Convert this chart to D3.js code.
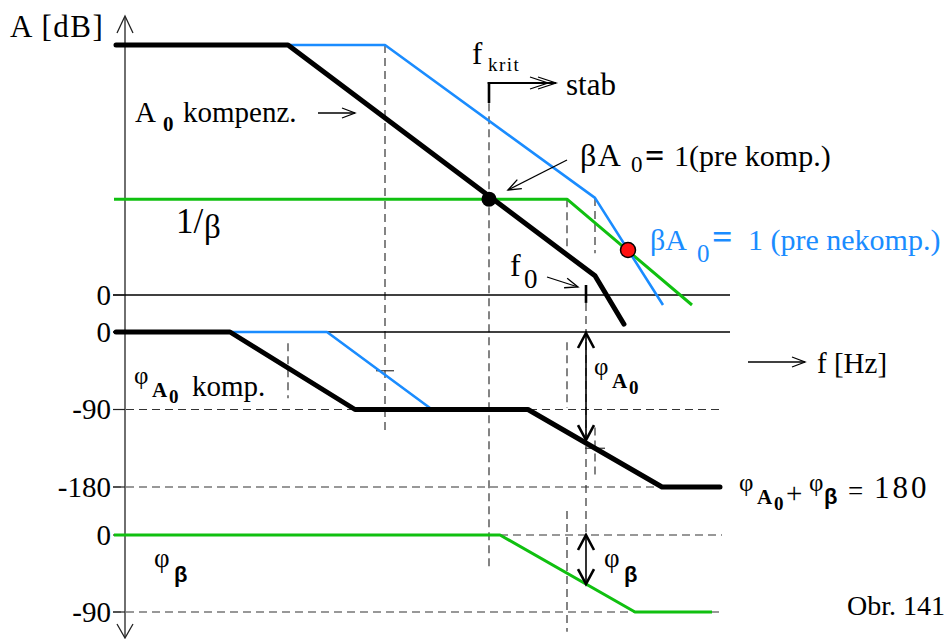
<!DOCTYPE html>
<html>
<head>
<meta charset="utf-8">
<script src="https://cdn.jsdelivr.net/npm/d3@7"></script>
<style>
  html, body { margin: 0; padding: 0; background: #fff; }
  svg { display: block; font-family: "Liberation Serif", "Times New Roman", serif; }
</style>
</head>
<body>
<svg id="chart" width="951" height="639"></svg>
<script>
// Corner frequencies in decades (log f) and the level reached at each corner.
const freqA0Komp = [-0.09, 1.63, 4.70, 4.99];
const ampA0Komp = [60, 60, 4.6, -7];
const freqA0Nekomp = [1.63, 2.60, 4.70, 5.38];
const ampA0Nekomp = [60, 60, 23.3, -2.4];
const freqInvBeta = [-0.11, 4.42, 5.67];
const ampInvBeta = [23, 23, -2.4];

const freqPhiA0Komp = [-0.09, 1.05, 2.30, 4.03, 5.37, 5.95];
const phiA0Komp = [0, 0, -90, -90, -180, -180];
const freqPhiA0Nekomp = [1.05, 2.02, 3.07];
const phiA0Nekomp = [0, 0, -90];
const freqPhiBeta = [-0.11, 3.75, 5.10, 5.87];
const phiBeta = [0, 0, -90, -90];

const fKrit = 3.64;          // βA0 = 1 for the compensated amplifier
const f0 = 4.61;             // second pole of the compensated amplifier
const crossKomp = [3.64, 23];
const crossNekomp = [5.03, 10.8];

const ampTicks = ["0"];
const ampTickValues = [0];
const phiATickLabels = ["0", "-90", "-180"];
const phiATickValues = [0, -90, -180];
const phiBTickLabels = ["0", "-90"];
const phiBTickValues = [0, -90];

const BLACK = "#000", BLUE = "#1a8cff", GREEN = "#10c010", GUIDE = "#333";

const svg = d3.select("#chart");
const x = d3.scaleLinear().domain([0, 6]).range([125, 725]);
const yA = d3.scaleLinear().domain([0, 60]).range([295, 45]);
const yPA = d3.scaleLinear().domain([0, -180]).range([332, 487]);
const yPB = d3.scaleLinear().domain([0, -90]).range([535, 612]);
const xEnd = 6.05;
const xTick = -0.12;

// interpolate a piecewise-linear curve at frequency f
function at(fs, vs, f) {
  for (let i = 1; i < fs.length; i++) {
    if (f <= fs[i]) {
      const t = (f - fs[i - 1]) / (fs[i] - fs[i - 1]);
      return vs[i - 1] + t * (vs[i] - vs[i - 1]);
    }
  }
  return vs[vs.length - 1];
}

const gGuide = svg.append("g");
const gAxis = svg.append("g");
const gCurve = svg.append("g");
const gText = svg.append("g");

function seg(g, x1, y1, x2, y2, stroke, width, dash) {
  const l = g.append("line").attr("x1", x1).attr("y1", y1).attr("x2", x2).attr("y2", y2)
    .attr("stroke", stroke).attr("stroke-width", width);
  if (dash) l.attr("stroke-dasharray", dash);
  return l;
}
function vguide(f, y1, y2) { seg(gGuide, x(f), y1, x(f), y2, GUIDE, 1.2, "8,5"); }
function hguide(y, f1, f2) { seg(gGuide, x(f1), y, x(f2), y, GUIDE, 1.2, "8,5"); }

// open chevron head at (x2,y2) pointing along (x1,y1)->(x2,y2)
function head(g, x1, y1, x2, y2, len, half, width) {
  const a = Math.atan2(y2 - y1, x2 - x1);
  const p = (s) => [x2 - len * Math.cos(a) + s * half * Math.sin(a), y2 - len * Math.sin(a) - s * half * Math.cos(a)];
  const [l1, l2] = [p(1), p(-1)];
  g.append("path").attr("d", `M${l1[0]},${l1[1]}L${x2},${y2}L${l2[0]},${l2[1]}`)
    .attr("fill", "none").attr("stroke", BLACK).attr("stroke-width", width)
    .attr("stroke-linejoin", "miter");
}
function arrow(g, x1, y1, x2, y2, len = 13, half = 5, width = 1.3) {
  seg(g, x1, y1, x2, y2, BLACK, width);
  head(g, x1, y1, x2, y2, len, half, width);
}

// ---- guide lines -------------------------------------------------------
hguide(yPA(-90), xTick, xEnd - 0.08);
hguide(yPA(-180), xTick, xEnd - 0.08);
hguide(yPB(-90), xTick, xEnd - 0.08);
hguide(yPB(0), freqPhiBeta[1], xEnd - 0.08);

vguide(freqA0Nekomp[1], yA(60), yPA(-114));
seg(gGuide, x(freqA0Nekomp[1]) - 9, yPA(-45), x(freqA0Nekomp[1]) + 9, yPA(-45), GUIDE, 1.2);
vguide(freqA0Komp[1], yPA(-13), yPA(-77));
vguide(fKrit, yA(46), yPB(-41));
vguide(freqInvBeta[1], yA(23), yA(11));
vguide(freqInvBeta[1], yPA(-12), yPA(-88));
vguide(freqInvBeta[1], yPB(28), yPB(-113));
vguide(freqA0Nekomp[2], yA(23.3), yA(10));
vguide(freqA0Nekomp[2], yPA(-111), yPA(-168));
seg(gGuide, x(freqA0Nekomp[2]) - 10, yPA(-135), x(freqA0Nekomp[2]) + 10, yPA(-135), GUIDE, 1.2);
vguide(f0, yA(-1.9), yPB(0));

// ---- axis --------------------------------------------------------------
const x0 = x(0);
seg(gAxis, x0, 17, x0, 637, "#222", 1.3);
gAxis.append("path").attr("d", `M${x0 - 8},33L${x0},16L${x0 + 8},33`).attr("fill", "none").attr("stroke", "#222").attr("stroke-width", 1.3);
gAxis.append("path").attr("d", `M${x0 - 8},624L${x0},638L${x0 + 8},624`).attr("fill", "none").attr("stroke", "#222").attr("stroke-width", 1.3);

// zero reference lines
seg(gAxis, x(xTick), yA(0), x(xEnd), yA(0), BLACK, 1.5);
seg(gAxis, x(xTick), yPA(0), x(xEnd), yPA(0), BLACK, 1.5);

function tickLabels(scale, values, labels) {
  values.forEach((v, i) => {
    seg(gAxis, x(xTick), scale(v), x0, scale(v), "#222", 1.2);
    gText.append("text").attr("x", x(xTick) - 2).attr("y", scale(v) + 9.5)
      .attr("text-anchor", "end").attr("font-size", 29).text(labels[i]);
  });
}
tickLabels(yA, ampTickValues, ampTicks);
tickLabels(yPA, phiATickValues, phiATickLabels);
tickLabels(yPB, phiBTickValues, phiBTickLabels);

// ---- curves ------------------------------------------------------------
function curve(fs, vs, scale, color, width) {
  const line = d3.line().x(d => x(d[0])).y(d => scale(d[1]));
  gCurve.append("path").attr("d", line(d3.zip(fs, vs)))
    .attr("fill", "none").attr("stroke", color).attr("stroke-width", width)
    .attr("stroke-linejoin", "round").attr("stroke-linecap", width > 4 ? "round" : "butt");
}
curve(freqInvBeta, ampInvBeta, yA, GREEN, 3);
curve(freqA0Nekomp, ampA0Nekomp, yA, BLUE, 2.6);
curve(freqA0Komp, ampA0Komp, yA, BLACK, 5);
curve(freqPhiA0Nekomp, phiA0Nekomp, yPA, BLUE, 2.6);
curve(freqPhiA0Komp, phiA0Komp, yPA, BLACK, 5);
curve(freqPhiBeta, phiBeta, yPB, GREEN, 3);

gCurve.append("circle").attr("cx", x(crossKomp[0])).attr("cy", yA(crossKomp[1])).attr("r", 7.5).attr("fill", BLACK);
gCurve.append("circle").attr("cx", x(crossNekomp[0])).attr("cy", yA(crossNekomp[1])).attr("r", 7.5)
  .attr("fill", "#ff1010").attr("stroke", BLACK).attr("stroke-width", 1.5);

// f0 marker on the 0 dB line
seg(gCurve, x(f0), yA(2.4), x(f0), yA(-1.9), BLACK, 2.6);

// f_krit bracket pointing to the stable region
const xk = x(fKrit);
seg(gCurve, xk, 82, xk, 103, BLACK, 2.6);
seg(gCurve, xk - 1.3, 83, xk + 67, 83, BLACK, 1.8);
head(gCurve, xk, 83, xk + 59, 83, 18, 6, 1.3);
head(gCurve, xk, 83, xk + 67, 83, 18, 6, 1.3);

// phase margins
function doubleArrow(xp, y1, y2) {
  seg(gCurve, xp, y1 + 1, xp, y2 - 1, BLACK, 1.6);
  head(gCurve, xp, y2, xp, y1, 15, 8, 2.6);
  head(gCurve, xp, y1, xp, y2, 15, 8, 2.6);
}
doubleArrow(x(f0), yPA(0) + 1, yPA(at(freqPhiA0Komp, phiA0Komp, f0)) - 3);
doubleArrow(x(f0), yPB(0), yPB(at(freqPhiBeta, phiBeta, f0)));

// pointer arrows
arrow(gCurve, 318, 113, 355, 113);
arrow(gCurve, 567, 160, 508, 190);
arrow(gCurve, 547, 277, 578, 287);
arrow(gCurve, 748, 362, 805, 362);

// ---- texts -------------------------------------------------------------
function txt(xp, yp, s, size, opts = {}) {
  const t = gText.append("text").attr("x", xp).attr("y", yp).attr("font-size", size).text(s);
  if (opts.bold) t.attr("font-weight", "bold");
  if (opts.fill) t.attr("fill", opts.fill);
  if (opts.ls) t.attr("letter-spacing", opts.ls);
  if (opts.family) t.attr("font-family", opts.family);
  return t;
}

txt(10, 37, "A [dB]", 31, { ls: 1.5 });
txt(472, 64, "f", 31);
txt(488, 71, "krit", 19, { ls: 1.5 });
txt(566, 95, "stab", 31);

txt(135, 122, "A", 29);
txt(163, 131, "0", 21, { bold: true });
txt(183, 122, "kompenz.", 29);

txt(176, 233, "1/", 35);
txt(204, 238, "β", 33);

txt(580, 166, "βA", 32, { ls: 1.5 });
txt(631, 172, "0", 23);
txt(645, 167, "=", 34, { bold: true });
txt(674, 166, "1(pre komp.)", 30);

txt(650, 250, "βA", 30, { fill: BLUE });
txt(697, 262, "0", 25, { fill: BLUE });
txt(712, 249, "=", 36, { fill: BLUE, bold: true });
txt(748, 250, "1 (pre nekomp.)", 30, { fill: BLUE });

txt(510, 276, "f", 32);
txt(524, 288, "0", 27);

txt(817, 373, "f [Hz]", 29);

// phase labels
function phiA0(xp, yp) {
  txt(xp, yp, "φ", 25);
  txt(xp + 18, yp + 13, "A", 21, { bold: true });
  txt(xp + 35, yp + 19, "0", 19, { bold: true });
}
phiA0(134, 384);
txt(192, 396, "komp.", 29);
phiA0(594, 375);
phiA0(739, 491);
txt(786, 503, "+", 29);
txt(809, 491, "φ", 25);
txt(824, 504, "β", 22, { bold: true, family: "Liberation Sans, Arial, sans-serif" });
txt(848, 500, "=", 27);
txt(874, 498, "180", 31, { ls: 3 });

function phiB(xp, yp) {
  txt(xp, yp, "φ", 27);
  txt(xp + 20, yp + 15, "β", 22, { bold: true, family: "Liberation Sans, Arial, sans-serif" });
}
phiB(154, 567);
phiB(604, 567);

txt(847, 615, "Obr. 141", 28);
</script>
</body>
</html>
